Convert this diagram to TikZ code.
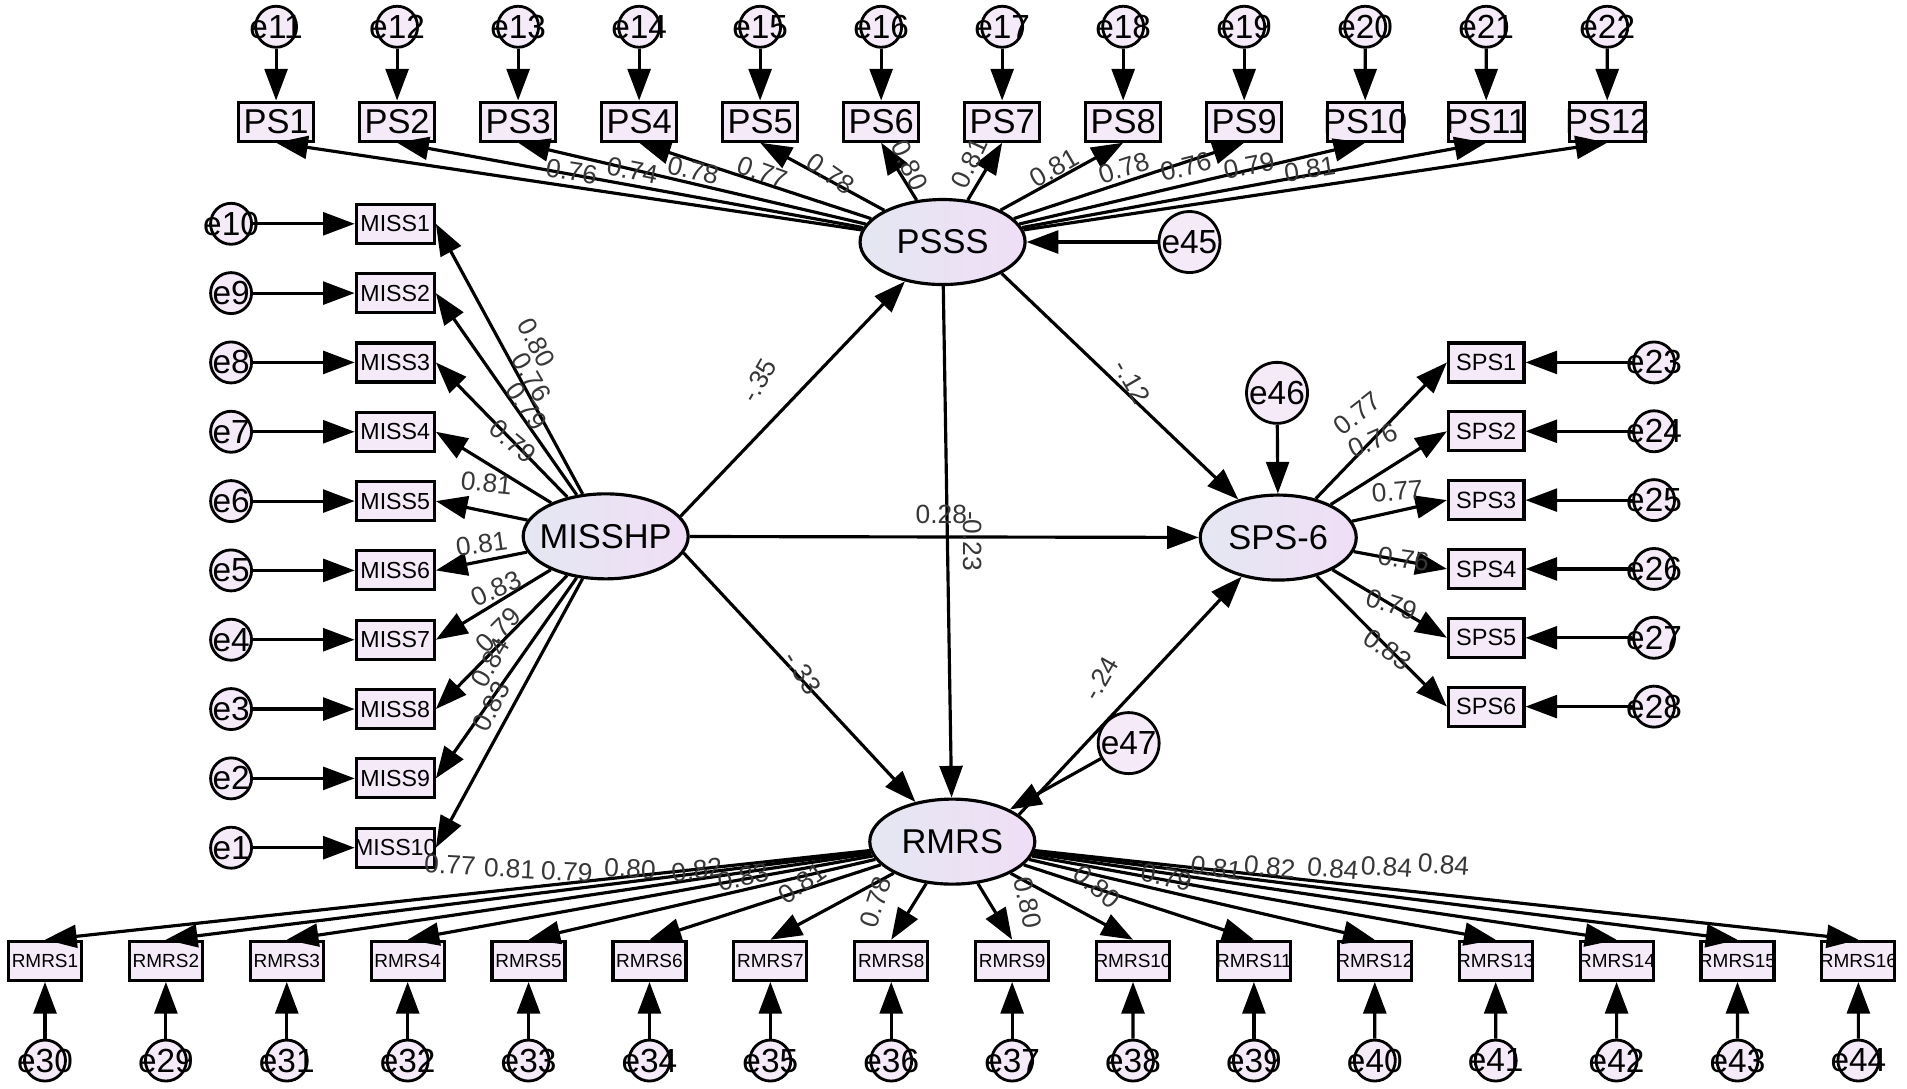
\documentclass[tikz,border=0pt]{standalone}
\usepackage{fontspec}
\setmainfont{Liberation Sans}
\usetikzlibrary{arrows.meta, shapes.geometric}
\definecolor{boxfill}{RGB}{244,234,248}
\definecolor{latleft}{RGB}{228,231,242}
\definecolor{latright}{RGB}{240,222,246}
\definecolor{coefgray}{RGB}{55,55,55}
\tikzset{
  obs/.style = {rectangle, draw=black, line width=0.9pt, fill=boxfill, minimum width=0.754cm, minimum height=0.39cm, inner xsep=-2pt, inner ysep=0pt},
  psbox/.style = {obs, font=\fontsize{9.8}{10}\selectfont},
  missbox/.style = {obs, minimum width=0.78cm, font=\fontsize{6.6}{7}\selectfont},
  spsbox/.style = {obs, font=\fontsize{6.7}{7}\selectfont},
  rmrsbox/.style = {obs, minimum width=0.73cm, font=\fontsize{5.4}{6}\selectfont},
  lat/.style = {ellipse, draw=black, line width=0.9pt, left color=latleft, right color=latright, minimum width=1.65cm, minimum height=0.85cm, inner xsep=-7pt, inner ysep=0pt, font=\fontsize{9.8}{10}\selectfont},
  err/.style = {circle, draw=black, line width=0.8pt, fill=boxfill, minimum size=0.41cm, inner sep=-4pt, font=\fontsize{9.5}{10}\selectfont},
  errbig/.style = {err, minimum size=0.61cm, inner sep=0pt, font=\fontsize{9.5}{10}\selectfont},
  arr/.style = {-{Triangle[length=9pt, width=6.5pt]}, line width=0.9pt},
  coef/.style = {font=\fontsize{7.5}{8}\selectfont, text=coefgray, inner sep=0.5pt}
}
\begin{document}
\begin{tikzpicture}[x=0.012162cm, y=-0.012162cm]
\path[use as bounding box, fill=white] (0,0) rectangle (1568,895);

% Latent variables
\node[lat] (PSSS) at (775,199) {PSSS};
\node[lat] (MISSHP) at (498,441) {MISSHP};
\node[lat, minimum width=1.56cm] (SPSsix) at (1051,442) {SPS-6};
\node[lat] (RMRS) at (783,692) {RMRS};
\node[errbig] (e45) at (978,199) {e45};
\node[errbig] (e46) at (1050,323) {e46};
\node[errbig] (e47) at (928,611) {e47};

% Top row: PS items
\foreach \i in {1,...,12} {
  \pgfmathtruncatemacro{\e}{10+\i}
  \node[psbox] (PS\i) at ({227+99.5*(\i-1)},100) {PS\i};
  \node[err] (e\e) at ({227+99.5*(\i-1)},22) {e\e};
  \draw[arr] (e\e) -- (PS\i);
  \draw[arr] (PSSS) -- (PS\i.south);
}

% Left column: MISS items
\foreach \i in {1,...,10} {
  \pgfmathtruncatemacro{\e}{11-\i}
  \node[missbox] (MISS\i) at (325,{184+57*(\i-1)}) {MISS\i};
  \node[err] (e\e) at (190,{184+57*(\i-1)}) {e\e};
  \draw[arr] (e\e) -- (MISS\i);
  \draw[arr] (MISSHP) -- (MISS\i.east);
}

% Right column: SPS items
\foreach \i in {1,...,6} {
  \pgfmathtruncatemacro{\e}{22+\i}
  \node[spsbox] (SPS\i) at (1222,{298+56.6*(\i-1)}) {SPS\i};
  \node[err] (e\e) at (1360,{298+56.6*(\i-1)}) {e\e};
  \draw[arr] (e\e) -- (SPS\i);
  \draw[arr] (SPSsix) -- (SPS\i.west);
}

% Bottom row: RMRS items
\foreach \e [count=\i] in {30,29,31,32,33,34,35,36,37,38,39,40,41,42,43,44} {
  \node[rmrsbox] (RMRS\i) at ({37+99.4*(\i-1)},790) {RMRS\i};
  \node[err] (e\e) at ({37+99.4*(\i-1)},872) {e\e};
  \draw[arr] (e\e) -- (RMRS\i);
  \draw[arr] (RMRS) -- (RMRS\i.north);
}

% ----- STRUCTURAL PATHS -----
\draw[arr] (MISSHP.15) -- (PSSS);
\draw[arr] (MISSHP) -- (SPSsix);
\draw[arr] (MISSHP.-12) -- (RMRS);
\draw[arr] (PSSS) -- (RMRS);
\draw[arr] (PSSS.-28) -- (SPSsix);
\draw[arr] (RMRS.22) -- (SPSsix);
\draw[arr] (e45) -- (PSSS);
\draw[arr] (e46) -- (SPSsix);
\draw[arr] (e47) -- (RMRS);

% ----- COEFFICIENTS -----
% PSSS loadings
\foreach \x/\y/\r/\v in {470/141/-9/0.76, 520/140/-11/0.74, 570/140/-13/0.78, 627/142/-20/0.77, 683/143/-35/0.78, 748/136/-65/0.80, 797/134/65/0.81, 867/138/30/0.81, 924/138/18/0.78, 975/137/14/0.76, 1027/136/11/0.79, 1077/139/9/0.81}
  \node[coef, rotate=\r] at (\x,\y) {\v};
% MISSHP loadings
\foreach \x/\y/\r/\v in {441/282/-62/0.80, 437/310/-60/0.76, 433/334/-55/0.79, 422/363/-40/0.79, 400/397/-6/0.81, 396/447/8/0.81, 408/484/25/0.83, 410/518/45/0.79, 403/545/60/0.84, 404/581/63/0.83}
  \node[coef, rotate=\r] at (\x,\y) {\v};
% SPS-6 loadings
\foreach \x/\y/\r/\v in {1116/340/38/0.77, 1129/362/24/0.76, 1149/404/5/0.77, 1154/460/-8/0.76, 1144/497/-18/0.79, 1141/534/-35/0.83}
  \node[coef, rotate=\r] at (\x,\y) {\v};
% RMRS loadings
\foreach \x/\y/\r/\v in {370/711/-3/0.77, 419/714/-3/0.81, 466/717/-3/0.79, 518/714/-3/0.80, 573/715/8/0.82, 611/721/12/0.83, 660/726/35/0.81, 720/742/72/0.78, 845/742/-78/0.80, 902/729/-42/0.80, 959/721/-12/0.79, 1000/714/-8/0.81, 1044/713/-5/0.82, 1096/714/-5/0.84, 1140/713/-4/0.84, 1187/711/-4/0.84}
  \node[coef, rotate=\r] at (\x,\y) {\v};
% Structural coefficients
\foreach \x/\y/\r/\v in {624/313/60/-.35, 931/314/-60/-.12, 774/423/0/0.28, 800/445/-90/-0.23, 660/553/-58/-.33, 905/558/60/-.24}
  \node[coef, rotate=\r] at (\x,\y) {\v};

\end{tikzpicture}
\end{document}
